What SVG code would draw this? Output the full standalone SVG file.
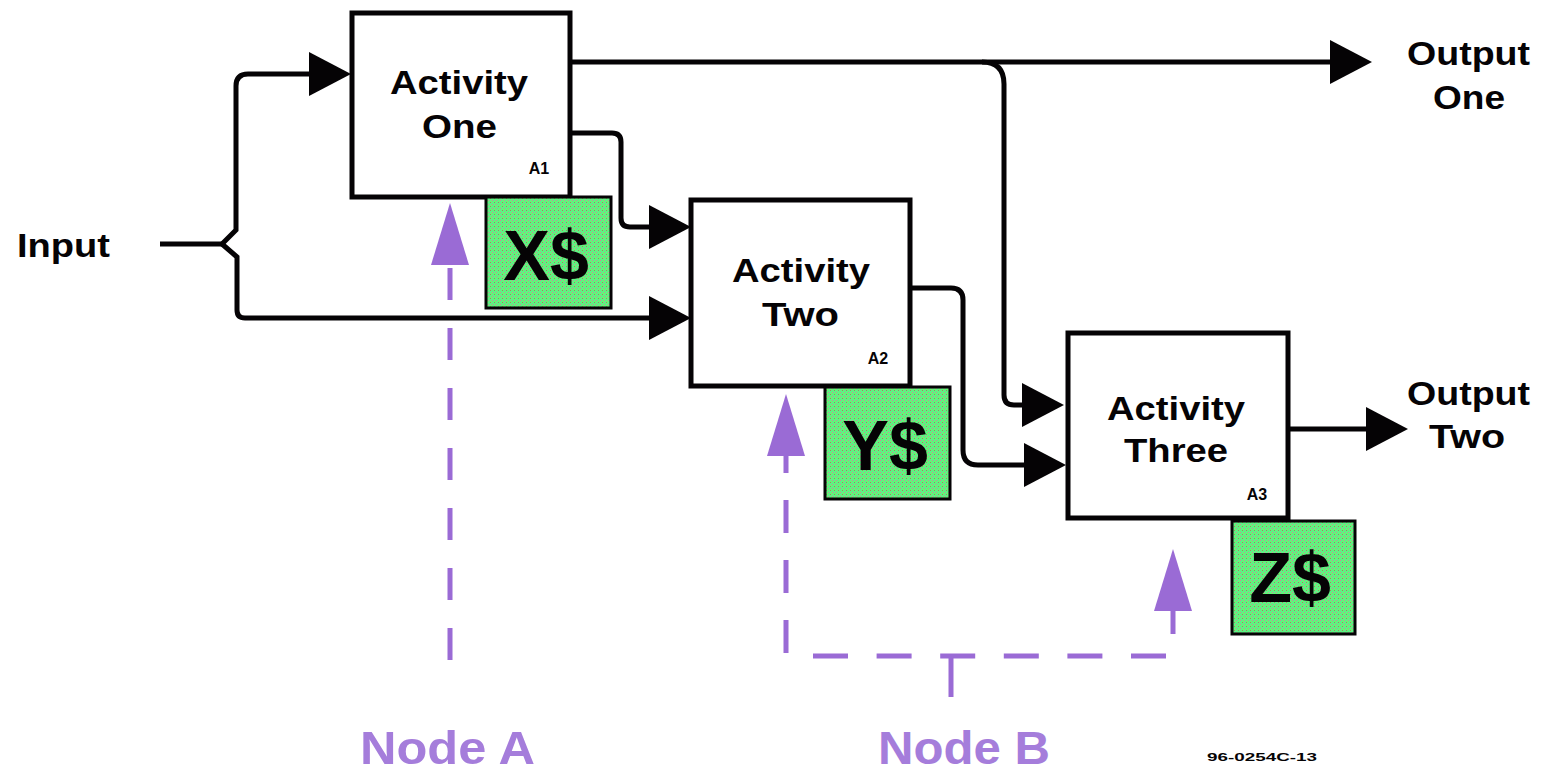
<svg xmlns="http://www.w3.org/2000/svg" width="1541" height="773" viewBox="0 0 1541 773">
<defs>
<style>
.box{fill:#fff;stroke:#050305;stroke-width:5}
.cost{fill:url(#spk);stroke:#050305;stroke-width:3}
.lbl{font-family:"Liberation Sans",Arial,sans-serif;font-weight:bold;fill:#050305}
.big{font-size:34px}
.cur{font-size:70px;text-anchor:middle}
.id{font-size:16px;text-anchor:middle}
.node{font-family:"Liberation Sans",Arial,sans-serif;font-weight:bold;font-size:46px;fill:#a57ddb}
.wire{fill:none;stroke:#050305;stroke-width:5}
.dash{fill:none;stroke:#9a6bd5;stroke-width:5}
</style>
<pattern id="spk" width="4" height="4" patternUnits="userSpaceOnUse">
<rect width="4" height="4" fill="#5ff282"/>
<rect x="0" y="0" width="1" height="1" fill="#d08a98"/>
<rect x="2" y="2" width="1" height="1" fill="#a08a60"/>
<rect x="3" y="1" width="1" height="1" fill="#7cf45a"/>
</pattern>
<marker id="ah" markerUnits="userSpaceOnUse" markerWidth="42" markerHeight="44" viewBox="0 0 42 44" refX="32" refY="22" orient="auto">
<path d="M0,0 L42,22 L0,44 Z" fill="#050305"/>
</marker>
<marker id="ph" markerUnits="userSpaceOnUse" markerWidth="62" markerHeight="38" viewBox="0 0 62 38" refX="52" refY="19" orient="auto">
<path d="M0,0 L62,19 L0,38 Z" fill="#9a6bd5"/>
</marker>
</defs>
<rect width="1541" height="773" fill="#fff"/>

<g id="connectors">
<path class="wire" d="M160,244 H222"/>
<path class="wire" d="M222,244 L236,230 V86 Q236,74 248,74 H341" marker-end="url(#ah)"/>
<path class="wire" d="M222,244 L237,257 V310 Q237,318 245,318 H681" marker-end="url(#ah)"/>
<path class="wire" d="M570,133 H612 Q621,133 621,142 V218 Q621,227 630,227 H681" marker-end="url(#ah)"/>
<path class="wire" d="M570,62 H1362" marker-end="url(#ah)"/>
<path class="wire" d="M982,62 Q1004,62 1004,84 V395 Q1004,405 1014,405 H1054" marker-end="url(#ah)"/>
<path class="wire" d="M910,288 H951 Q963,288 963,300 V450 Q963,465 978,465 H1056" marker-end="url(#ah)"/>
<path class="wire" d="M1286,429 H1398" marker-end="url(#ah)"/>
<path class="dash" d="M450,660 V213" stroke-dasharray="32 28" marker-end="url(#ph)"/>
<path class="dash" d="M786,653 V404" stroke-dasharray="33 27" marker-end="url(#ph)"/>
<path class="dash" d="M813,656 H1166" stroke-dasharray="35 28.6"/>
<path class="dash" d="M951,656 V697"/>
<path class="dash" d="M1173,634 V559" marker-end="url(#ph)"/>
</g>

<g id="input">
<text class="lbl big" x="17" y="257" textLength="93" lengthAdjust="spacingAndGlyphs">Input</text>
</g>

<g id="activity-one">
<rect class="box" x="352" y="13" width="218" height="184"/>
<text class="lbl big" x="390" y="94" textLength="138" lengthAdjust="spacingAndGlyphs">Activity</text>
<text class="lbl big" x="422" y="138" textLength="75" lengthAdjust="spacingAndGlyphs">One</text>
<text class="lbl id" x="539" y="174">A1</text>
</g>

<g id="activity-two">
<rect class="box" x="691" y="200" width="219" height="186"/>
<text class="lbl big" x="732" y="282" textLength="138" lengthAdjust="spacingAndGlyphs">Activity</text>
<text class="lbl big" x="762" y="326" textLength="77" lengthAdjust="spacingAndGlyphs">Two</text>
<text class="lbl id" x="878" y="364">A2</text>
</g>

<g id="activity-three">
<rect class="box" x="1068" y="333" width="220" height="185"/>
<text class="lbl big" x="1107" y="420" textLength="138" lengthAdjust="spacingAndGlyphs">Activity</text>
<text class="lbl big" x="1124" y="462" textLength="104" lengthAdjust="spacingAndGlyphs">Three</text>
<text class="lbl id" x="1257" y="500">A3</text>
</g>

<g id="cost-x">
<rect class="cost" x="486" y="197" width="125" height="111"/>
<text class="lbl cur" x="546" y="280">X$</text>
</g>

<g id="cost-y">
<rect class="cost" x="825" y="387" width="125" height="112"/>
<text class="lbl cur" x="885" y="470">Y$</text>
</g>

<g id="cost-z">
<rect class="cost" x="1232" y="521" width="123" height="113"/>
<text class="lbl cur" x="1290" y="602">Z$</text>
</g>

<g id="output-one">
<text class="lbl big" x="1407" y="65" textLength="123" lengthAdjust="spacingAndGlyphs">Output</text>
<text class="lbl big" x="1433" y="109" textLength="72" lengthAdjust="spacingAndGlyphs">One</text>
</g>

<g id="output-two">
<text class="lbl big" x="1407" y="405" textLength="123" lengthAdjust="spacingAndGlyphs">Output</text>
<text class="lbl big" x="1429" y="448" textLength="76" lengthAdjust="spacingAndGlyphs">Two</text>
</g>

<g id="node-a">
<text class="node" x="360" y="764" textLength="175" lengthAdjust="spacingAndGlyphs">Node A</text>
</g>

<g id="node-b">
<text class="node" x="878" y="764" textLength="172" lengthAdjust="spacingAndGlyphs">Node B</text>
</g>

<text class="lbl" x="1207" y="761" font-size="11" textLength="110" lengthAdjust="spacingAndGlyphs">96-0254C-13</text>
</svg>
